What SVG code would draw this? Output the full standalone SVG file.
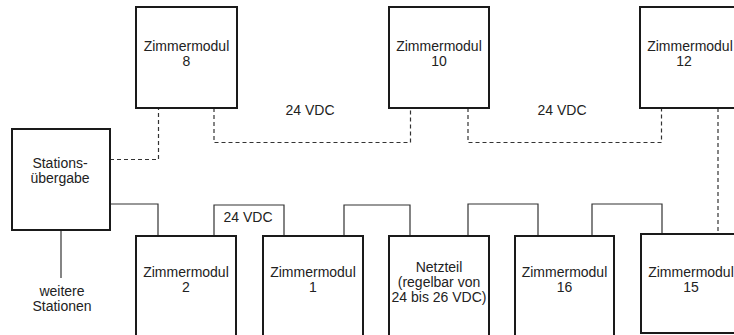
<svg xmlns="http://www.w3.org/2000/svg" width="734" height="335" viewBox="0 0 734 335">
<style>
.box{fill:#fff;stroke:#1a1a1a;stroke-width:2}
.t{font-family:"Liberation Sans",Arial,sans-serif;font-size:14px;fill:#222;text-anchor:middle}
.c{fill:none;stroke:#333;stroke-width:1.2}
.d{fill:none;stroke:#333;stroke-width:1.2;stroke-dasharray:4,3}
</style>
<rect width="734" height="335" fill="#fff"/>
<g id="connectors">
<path class="d" d="M110,159.5 H158.5 V108"/>
<path class="d" d="M214,108 V142.5 H410.5 V108"/>
<path class="d" d="M468,108 V142.5 H661.5 V108"/>
<path class="d" d="M718,108 V234"/>
<path class="c" d="M110,204 H158 V236"/>
<path class="c" d="M214,236 V205 H284 V236"/>
<path class="c" d="M344,236 V205 H410 V236"/>
<path class="c" d="M468,236 V204 H538 V236"/>
<path class="c" d="M592,236 V204 H662 V234"/>
<path class="c" d="M61,230 V278"/>
<text class="t" x="310" y="115">24 VDC</text>
<text class="t" x="562" y="115">24 VDC</text>
<text class="t" x="248" y="222">24 VDC</text>
</g>
<g id="n8">
<rect class="box" x="136" y="7" width="101" height="101"/>
<text class="t" x="186.5" y="51">Zimmermodul</text>
<text class="t" x="186.5" y="66">8</text>
</g>
<g id="n10">
<rect class="box" x="389" y="7" width="100" height="101"/>
<text class="t" x="439" y="51">Zimmermodul</text>
<text class="t" x="439" y="66">10</text>
</g>
<g id="n12">
<rect class="box" x="640" y="7" width="102" height="101"/>
<text class="t" x="690" y="51">Zimmermodul</text>
<text class="t" x="684" y="66">12</text>
</g>
<g id="station">
<rect class="box" x="12" y="129" width="98" height="101"/>
<text class="t" x="60" y="168">Stations-</text>
<text class="t" x="60" y="183">übergabe</text>
</g>
<g id="weitere">
<text class="t" x="62" y="296">weitere</text>
<text class="t" x="62" y="311">Stationen</text>
</g>
<g id="n2">
<rect class="box" x="136" y="236" width="100" height="110"/>
<text class="t" x="186" y="277">Zimmermodul</text>
<text class="t" x="186" y="292">2</text>
</g>
<g id="n1">
<rect class="box" x="263" y="236" width="100" height="110"/>
<text class="t" x="313" y="277">Zimmermodul</text>
<text class="t" x="313" y="292">1</text>
</g>
<g id="netzteil">
<rect class="box" x="389" y="236" width="100" height="110"/>
<text class="t" x="439" y="272">Netzteil</text>
<text class="t" x="439" y="287">(regelbar von</text>
<text class="t" x="439" y="302">24 bis 26 VDC)</text>
</g>
<g id="n16">
<rect class="box" x="515" y="236" width="99" height="110"/>
<text class="t" x="564.5" y="277">Zimmermodul</text>
<text class="t" x="564.5" y="292">16</text>
</g>
<g id="n15">
<rect class="box" x="641" y="234" width="101" height="99"/>
<text class="t" x="691" y="277">Zimmermodul</text>
<text class="t" x="691" y="292">15</text>
</g>
</svg>
